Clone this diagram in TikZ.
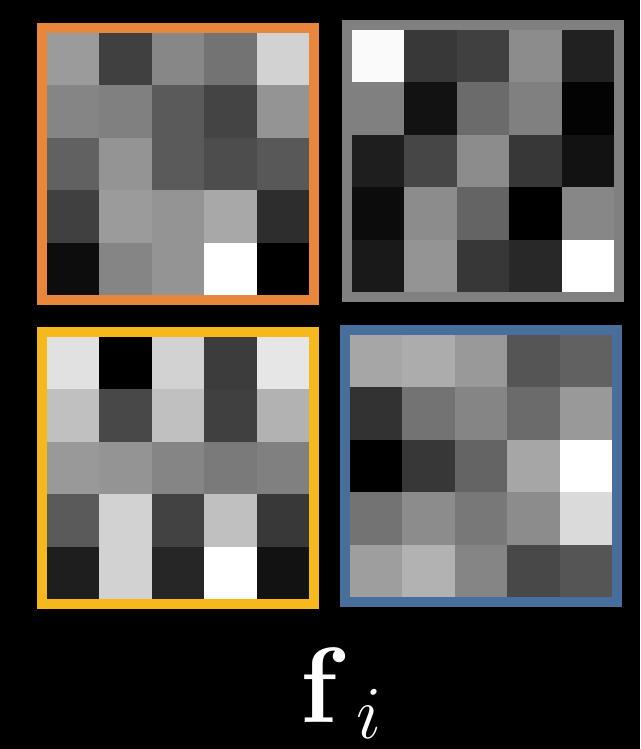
\documentclass[tikz,border=0pt]{standalone}
\usepackage{fix-cm}
\definecolor{borange}{RGB}{232,135,60}
\definecolor{bgray}{RGB}{128,128,128}
\definecolor{byellow}{RGB}{245,185,30}
\definecolor{bblue}{RGB}{72,110,155}
\newcommand\drawcells[3]{%
  \foreach \rw [count=\ii from 0] in {#3} {%
    \foreach \vv [count=\jj from 0] in \rw {%
      \fill[fill={rgb,255:red,\vv;green,\vv;blue,\vv}]
        (#1+\jj*52.4,#2+\ii*52.4) rectangle ++(52.4,52.4);
    }%
  }%
}
\tikzset{gridframe/.style={draw=#1,line width=10pt,fill=none,minimum width=272pt,minimum height=272pt,inner sep=0pt,outer sep=0pt,anchor=north west}}
\begin{document}
\begin{tikzpicture}[x=1pt,y=-1pt]
\fill[black] (0,0) rectangle (640,749);
\useasboundingbox (0,0) rectangle (640,749);
% grid 1
\drawcells{47}{33}{{155,64,135,115,210},{133,128,90,68,148},{97,148,90,77,88},{64,155,148,168,45},{13,133,148,255,0}}
\node[gridframe=borange] (g1) at (42,28) {};
% grid 2
\drawcells{352}{30}{{250,56,64,140,33},{128,18,107,128,3},{30,70,140,55,18},{12,140,100,0,135},{25,148,55,40,255}}
\node[gridframe=bgray] (g2) at (347,25) {};
% grid 3
\drawcells{47}{337}{{225,0,210,60,230},{192,72,192,64,178},{153,148,133,122,128},{90,210,66,192,56},{30,210,38,255,18}}
\node[gridframe=byellow] (g3) at (42,332) {};
% grid 4
\drawcells{350}{335}{{166,172,153,85,97},{50,115,133,107,153},{0,55,100,166,255},{115,140,120,140,218},{158,178,133,72,85}}
\node[gridframe=bblue] (g4) at (345,330) {};
% label
\node[text=white,anchor=base west,inner sep=0pt,font=\fontsize{107}{128}\selectfont] (lbl) at (300,722) {$\mathbf{f}_{\kern0.18em i}$};
\end{tikzpicture}
\end{document}
